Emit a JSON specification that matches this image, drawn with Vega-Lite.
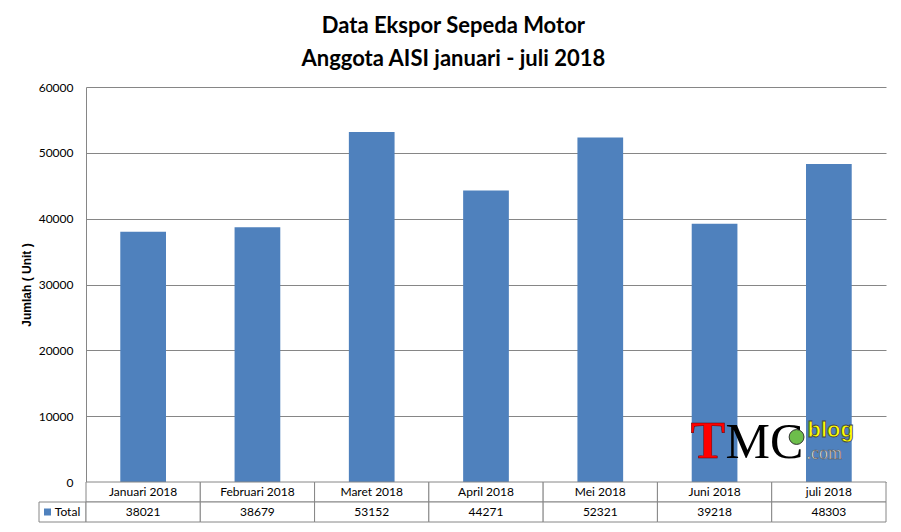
{
  "$schema": "https://vega.github.io/schema/vega-lite/v6.json",
  "background": "white",
  "padding": {"left": 20, "top": 15, "right": 16, "bottom": 10},
  "title": {
    "text": ["Data Ekspor Sepeda Motor", "Anggota AISI januari - juli 2018"],
    "font": "Lato", "fontSize": 22, "fontWeight": "bold", "color": "#000000",
    "lineHeight": 33, "anchor": "middle", "offset": 10
  },
  "datasets": {
    "d": [
      {"bulan": "Januari 2018", "total": 38021},
      {"bulan": "Februari 2018", "total": 38679},
      {"bulan": "Maret 2018", "total": 53152},
      {"bulan": "April 2018", "total": 44271},
      {"bulan": "Mei 2018", "total": 52321},
      {"bulan": "Juni 2018", "total": 39218},
      {"bulan": "juli 2018", "total": 48303}
    ]
  },
  "columns": 2,
  "spacing": 0,
  "bounds": "flush",
  "concat": [
    {
      "width": 47, "height": 395,
      "data": {"values": [{}]},
      "mark": {"type": "text", "text": ""},
      "encoding": {}
    },
    {
      "width": 800, "height": 395,
      "data": {"name": "d"},
      "encoding": {
        "x": {"field": "bulan", "type": "nominal", "sort": null, "scale": {"paddingInner": 0.6, "paddingOuter": 0.3}, "axis": null}
      },
      "layer": [
        {
          "mark": {"type": "bar", "color": "#4F81BD"},
          "encoding": {
            "y": {
              "field": "total", "type": "quantitative",
              "scale": {"domain": [0, 60000], "nice": false},
              "axis": {
                "values": [0, 10000, 20000, 30000, 40000, 50000, 60000],
                "format": "d", "grid": true, "gridColor": "#868686", "gridOpacity": 1,
                "domainColor": "#868686", "ticks": false, "tickSize": 0,
                "labelPadding": 13, "labelFont": "Lato", "labelFontSize": 12, "labelColor": "#000000",
                "title": "Jumlah ( Unit )", "titleFont": "Liberation Sans", "titleFontSize": 12,
                "titleFontWeight": "bold", "titleColor": "#000000", "titlePadding": 5
              }
            }
          }
        },
        {
          "transform": [{"filter": "datum.bulan === 'Juni 2018'"}],
          "mark": {"type": "text", "text": "T", "font": "Liberation Serif", "fontWeight": "bold", "fontSize": 52, "color": "#FF0000", "stroke": "#600000", "strokeWidth": 0.5, "align": "left", "baseline": "alphabetic", "dx": -24},
          "encoding": {"y": {"datum": 3646, "type": "quantitative"}}
        },
        {
          "transform": [{"filter": "datum.bulan === 'Juni 2018'"}],
          "mark": {"type": "text", "text": "MC", "font": "Liberation Serif", "fontSize": 50, "color": "#000000", "align": "left", "baseline": "alphabetic", "dx": 11},
          "encoding": {"y": {"datum": 3646, "type": "quantitative"}}
        },
        {
          "transform": [{"filter": "datum.bulan === 'Juni 2018'"}],
          "mark": {"type": "point", "shape": "circle", "filled": true, "color": "#6DBE4B", "size": 220, "opacity": 1, "stroke": "#333333", "strokeWidth": 1, "xOffset": 82},
          "encoding": {"y": {"datum": 6835, "type": "quantitative"}}
        },
        {
          "transform": [{"filter": "datum.bulan === 'Juni 2018'"}],
          "mark": {"type": "text", "text": "blog", "font": "Liberation Sans", "fontWeight": "bold", "fontSize": 22, "color": "#FFFF00", "stroke": "#444444", "strokeWidth": 0.8, "align": "left", "baseline": "alphabetic", "dx": 93},
          "encoding": {"y": {"datum": 6836, "type": "quantitative"}}
        },
        {
          "transform": [{"filter": "datum.bulan === 'Juni 2018'"}],
          "mark": {"type": "text", "text": ".com", "font": "Liberation Serif", "fontSize": 18, "color": "#F2F2F2", "stroke": "#555555", "strokeWidth": 0.6, "align": "left", "baseline": "alphabetic", "dx": 92},
          "encoding": {"y": {"datum": 3500, "type": "quantitative"}}
        }
      ]
    },
    {
      "width": 47, "height": 40,
      "data": {"values": [{"seri": "Total"}]},
      "encoding": {
        "x": {"field": "seri", "type": "nominal", "scale": {"paddingInner": 0, "paddingOuter": 0}, "axis": null},
        "y": {"field": "seri", "type": "nominal", "scale": {"domain": ["cat", "Total"], "paddingInner": 0, "paddingOuter": 0}, "axis": null}
      },
      "layer": [
        {"mark": {"type": "rect", "fill": "white", "stroke": "#868686", "strokeWidth": 1}},
        {"mark": {"type": "point", "shape": "square", "filled": true, "color": "#4F81BD", "opacity": 1, "size": 49, "xOffset": -15}},
        {"mark": {"type": "text", "font": "Lato", "fontSize": 12, "color": "#000000", "dx": 5}, "encoding": {"text": {"field": "seri"}}}
      ]
    },
    {
      "width": 800, "height": 40,
      "data": {"name": "d"},
      "encoding": {
        "x": {"field": "bulan", "type": "nominal", "sort": null, "scale": {"paddingInner": 0, "paddingOuter": 0}, "axis": null}
      },
      "layer": [
        {
          "mark": {"type": "rect", "fill": "white", "stroke": "#868686", "strokeWidth": 1},
          "encoding": {"y": {"datum": "cat", "type": "nominal", "scale": {"domain": ["cat", "Total"], "paddingInner": 0, "paddingOuter": 0}, "axis": null}}
        },
        {
          "mark": {"type": "rect", "fill": "white", "stroke": "#868686", "strokeWidth": 1},
          "encoding": {"y": {"datum": "Total", "type": "nominal"}}
        },
        {
          "mark": {"type": "text", "font": "Lato", "fontSize": 12, "color": "#000000"},
          "encoding": {"y": {"datum": "cat", "type": "nominal"}, "text": {"field": "bulan"}}
        },
        {
          "mark": {"type": "text", "font": "Lato", "fontSize": 12, "color": "#000000"},
          "encoding": {"y": {"datum": "Total", "type": "nominal"}, "text": {"field": "total", "type": "quantitative", "format": "d"}}
        }
      ]
    }
  ],
  "config": {"view": {"stroke": null}}
}
